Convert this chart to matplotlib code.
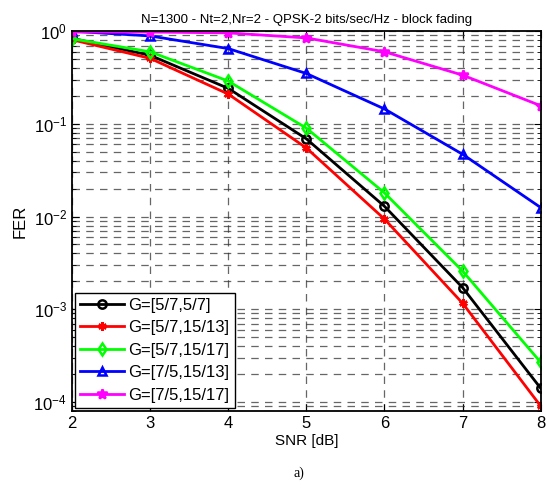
import matplotlib
matplotlib.use("Agg")
import matplotlib.pyplot as plt
from matplotlib.ticker import LogLocator, NullFormatter

snr = [2, 3, 4, 5, 6, 7, 8]
fer_57_57 = [0.84, 0.55, 0.242, 0.069, 0.0129, 0.00171, 0.00014]
fer_57_1513 = [0.81, 0.51, 0.21, 0.055, 0.0094, 0.00116, 0.00009]
fer_57_1517 = [0.83, 0.60, 0.29, 0.090, 0.018, 0.00258, 0.000267]
fer_75_1513 = [1.0, 0.89, 0.65, 0.35, 0.145, 0.047, 0.0125]
fer_75_1517 = [0.98, 0.98, 0.96, 0.847, 0.60, 0.336, 0.157]
labels = ["G=[5/7,5/7]", "G=[5/7,15/13]", "G=[5/7,15/17]", "G=[7/5,15/13]", "G=[7/5,15/17]"]
xticks = [2, 3, 4, 5, 6, 7, 8]

plt.rcParams['font.family'] = ['Liberation Sans', 'DejaVu Sans']

fig = plt.figure(figsize=(5.49, 4.88), dpi=100)
ax = fig.add_axes([0.131, 0.158, 0.854, 0.778])

series = [fer_57_57, fer_57_1513, fer_57_1517, fer_75_1513, fer_75_1517]
colors = ['black', 'red', '#00ff00', 'blue', 'magenta']
markers = ['o', (6, 2, 0), 'd', '^', '*']
for y, c, m, lab in zip(series, colors, markers, labels):
    filled = m in ('*',)
    ax.semilogy(snr, y, color=c, marker=m, lw=2, ms=6 if m != '*' else 7,
                mfc=c if filled else 'none', mec=c, mew=1.8, label=lab)

ax.set_xlim(2, 8)
ax.set_ylim(10 ** -4.097, 1)
ax.set_xticks(xticks)
ax.yaxis.set_major_locator(LogLocator(base=10, numticks=10))
ax.yaxis.set_minor_locator(LogLocator(base=10, subs=range(2, 10), numticks=20))
ax.yaxis.set_minor_formatter(NullFormatter())
ax.grid(True, which='major', axis='both', color='#333333', ls=(0, (6, 5)), lw=0.9, alpha=0.75)
ax.grid(True, which='minor', axis='y', color='#333333', ls=(0, (6, 5)), lw=0.9, alpha=0.75)
ax.tick_params(which='both', direction='in', top=True, right=True, labelsize=12)
ax.tick_params(which='major', length=5)
ax.tick_params(which='minor', length=3)
for s in ax.spines.values():
    s.set_linewidth(1.3)

ax.set_xlabel("SNR [dB]", fontsize=11, labelpad=2)
ax.set_ylabel("FER", fontsize=12, labelpad=4)
ax.set_title("N=1300 - Nt=2,Nr=2 - QPSK-2 bits/sec/Hz - block fading", fontsize=9.5, pad=6)

leg = ax.legend(loc='lower left', fontsize=12, frameon=True, fancybox=False,
                edgecolor='black', framealpha=1, borderpad=0.3, labelspacing=0.45,
                handlelength=2.6, handletextpad=0.3, borderaxespad=0.2)
leg.get_frame().set_linewidth(1.0)

fig.text(0.545, 0.03, "a)", fontsize=10, ha='center', va='center', family='Liberation Serif')

fig.savefig("out.png", dpi=100)
